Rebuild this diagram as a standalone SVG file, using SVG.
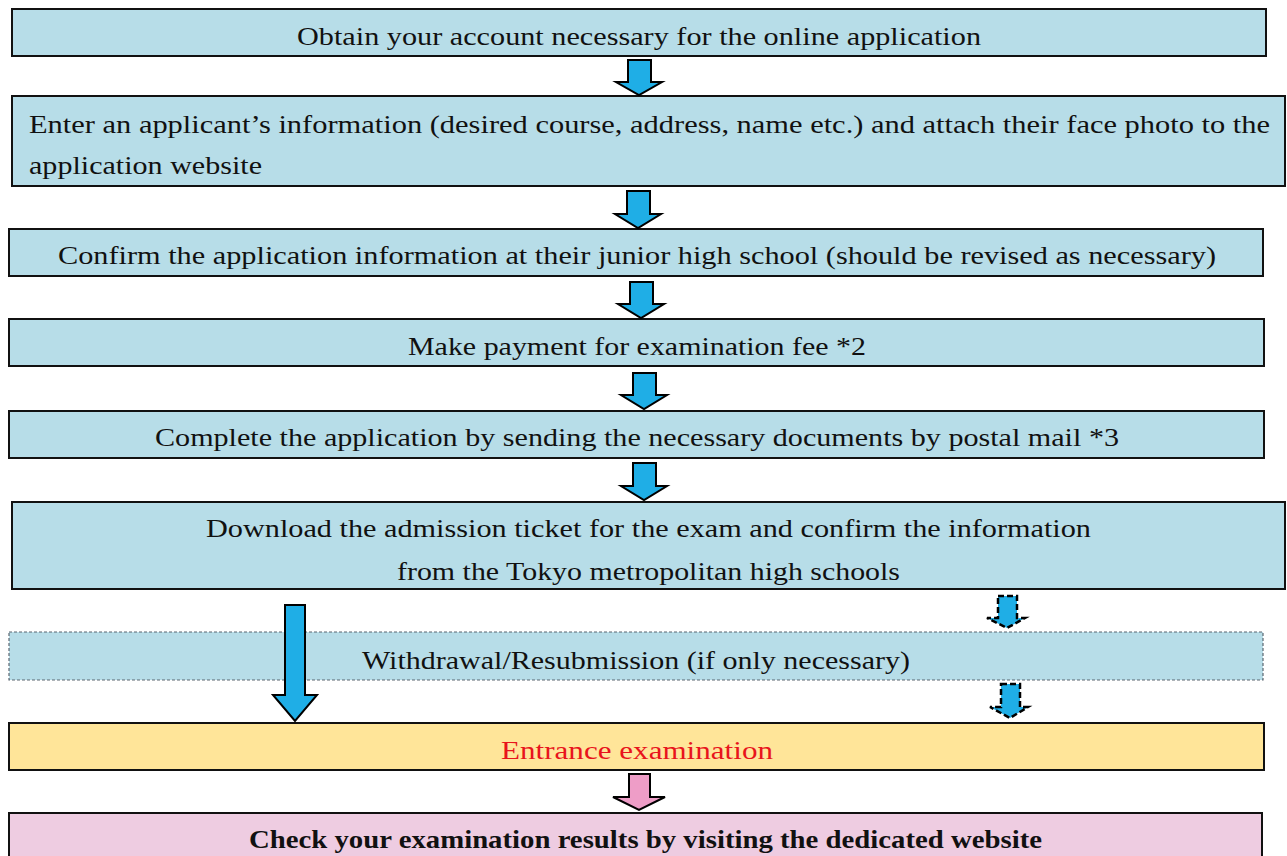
<svg xmlns="http://www.w3.org/2000/svg" width="1287" height="856" viewBox="0 0 1287 856">
<style>
.box{fill:#b7dde8;stroke:#111;stroke-width:2}
.dash{fill:#b7dde8;stroke:#5a6670;stroke-width:1.2;stroke-dasharray:3 2}
.t{font-family:"Liberation Serif","Times New Roman",serif;font-size:26px;fill:#111}
.arr{fill:#1faee6;stroke:#000;stroke-width:2;stroke-linejoin:miter}
.arrd{fill:#1faee6;stroke:#000;stroke-width:2.5;stroke-dasharray:6 3}
.arrp{fill:#ee9dc7;stroke:#000;stroke-width:2}
</style>
<rect width="1287" height="856" fill="#fff"/>
<g id="n1"><rect class="box" x="12" y="9" width="1254" height="47"/><text class="t" x="297" y="45" textLength="684" lengthAdjust="spacingAndGlyphs">Obtain your account necessary for the online application</text></g>
<g id="n2"><rect class="box" x="12" y="96" width="1273" height="90"/><text class="t" x="29" y="133" textLength="1241" lengthAdjust="spacingAndGlyphs">Enter an applicant’s information (desired course, address, name etc.) and attach their face photo to the</text><text class="t" x="29" y="174" textLength="233" lengthAdjust="spacingAndGlyphs">application website</text></g>
<g id="n3"><rect class="box" x="9" y="229" width="1254" height="47"/><text class="t" x="58" y="264" textLength="1158" lengthAdjust="spacingAndGlyphs">Confirm the application information at their junior high school (should be revised as necessary)</text></g>
<g id="n4"><rect class="box" x="9" y="319" width="1255" height="47"/><text class="t" x="408" y="355" textLength="458" lengthAdjust="spacingAndGlyphs">Make payment for examination fee *2</text></g>
<g id="n5"><rect class="box" x="9" y="411" width="1255" height="47"/><text class="t" x="155" y="446" textLength="964" lengthAdjust="spacingAndGlyphs">Complete the application by sending the necessary documents by postal mail *3</text></g>
<g id="n6"><rect class="box" x="12" y="502" width="1273" height="87"/><text class="t" x="206" y="537" textLength="885" lengthAdjust="spacingAndGlyphs">Download the admission ticket for the exam and confirm the information</text><text class="t" x="397" y="580" textLength="503" lengthAdjust="spacingAndGlyphs">from the Tokyo metropolitan high schools</text></g>
<g id="n7"><rect class="dash" x="9" y="632" width="1254" height="48"/><text class="t" x="362" y="669" textLength="548" lengthAdjust="spacingAndGlyphs">Withdrawal/Resubmission (if only necessary)</text></g>
<g id="n8"><rect x="9" y="723" width="1255" height="47" fill="#ffe599" stroke="#111" stroke-width="2"/><text class="t" x="501" y="759" textLength="272" lengthAdjust="spacingAndGlyphs" style="fill:#e8141c">Entrance examination</text></g>
<g id="n9"><rect x="9" y="813" width="1253" height="50" fill="#eecce1" stroke="#111" stroke-width="2"/><text class="t" x="249" y="848" textLength="793" lengthAdjust="spacingAndGlyphs" font-weight="bold">Check your examination results by visiting the dedicated website</text></g>
<g id="connectors">
<polygon class="arr" points="628,60 651,60 651,82 662,82 639,95 616,82 628,82"/>
<polygon class="arr" points="627,191 650,191 650,214 661,214 638,228 615,214 627,214"/>
<polygon class="arr" points="630,282 653,282 653,304 664,304 641,318 618,304 630,304"/>
<polygon class="arr" points="633,373 656,373 656,395 667,395 644,409 621,395 633,395"/>
<polygon class="arr" points="633,463 656,463 656,486 667,486 644,500 621,486 633,486"/>
<polygon class="arr" points="285,605 305,605 305,695 317,695 295,721 273,695 285,695"/>
<polygon class="arrd" points="998,596 1017,596 1017,618 1025,618 1007,628 987,618 998,618"/>
<polygon class="arrd" points="1001,684 1020,684 1020,707 1028,707 1010,718 990,707 1001,707"/>
<polygon class="arrp" points="629,774 650,774 650,797 665,797 639,810 613,797 629,797"/>
</g>
</svg>
